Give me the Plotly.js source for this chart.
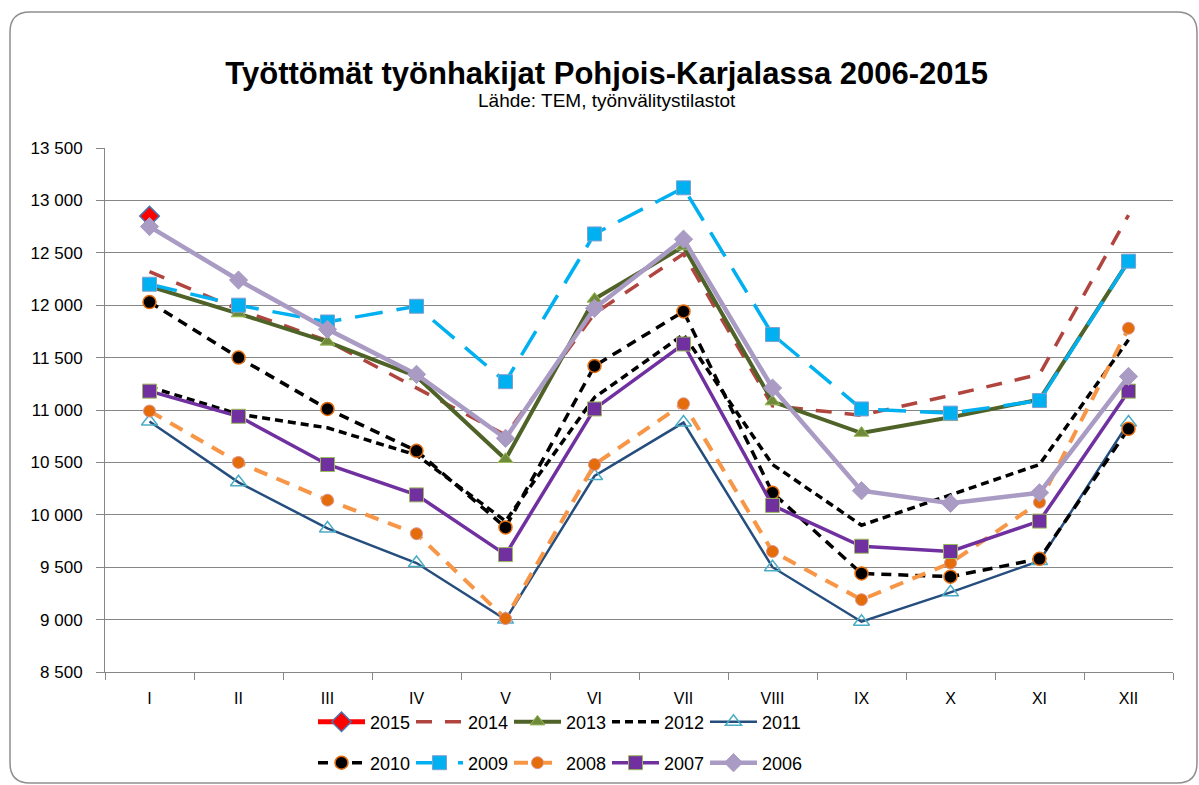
<!DOCTYPE html>
<html>
<head>
<meta charset="utf-8">
<script src="https://cdn.plot.ly/plotly-3.0.1.min.js"></script>
<style>
html,body{margin:0;padding:0;background:#fff;}
#chart{width:1199px;height:785px;}
</style>
</head>
<body>
<div id="chart"></div>
<script>
// Categories (months)
const months = ["I","II","III","IV","V","VI","VII","VIII","IX","X","XI","XII"];

// Series values
const y2015 = [12850, null, null, null, null, null, null, null, null, null, null, null];
const y2014 = [12320, 11960, 11660, 11210, 10760, 11920, 12490, 11040, 10950, 11140, 11340, 12860];
const y2013 = [12180, 11920, 11650, 11320, 10530, 12060, 12560, 11080, 10780, 10930, 11100, 12420];
const y2012 = [11220, 10960, 10830, 10570, 9940, 11120, 11720, 10480, 9900, 10190, 10480, 11670];
const y2011 = [10890, 10310, 9870, 9540, 9000, 10370, 10880, 9500, 8980, 9260, 9560, 10880];
const y2010 = [12030, 11500, 11010, 10610, 9880, 11420, 11940, 10210, 9440, 9410, 9580, 10820];
const y2009 = [12200, 12000, 11840, 11990, 11270, 12680, 13120, 11720, 11010, 10970, 11090, 12420];
const y2008 = [10990, 10500, 10140, 9820, 9010, 10480, 11060, 9650, 9190, 9540, 10120, 11780];
const y2007 = [11180, 10940, 10480, 10190, 9620, 11010, 11630, 10090, 9700, 9650, 9940, 11180];
const y2006 = [12750, 12240, 11770, 11340, 10730, 11970, 12630, 11210, 10230, 10110, 10210, 11320];

const yTickVals = [8500, 9000, 9500, 10000, 10500, 11000, 11500, 12000, 12500, 13000, 13500];

function tr(name, y, line, marker, legend) {
  const t = {
    x: months, y: y, name: name, type: "scatter",
    mode: marker ? "lines+markers" : "lines",
    line: line, legend: legend, connectgaps: false
  };
  if (marker) t.marker = marker;
  return t;
}

const traces = [
  tr("2015", y2015, {color: "#FF0000", width: 5},
     {symbol: "diamond", size: 15, color: "#FF0000", line: {color: "#4F6FA8", width: 1.5}}, "legend"),
  tr("2014", y2014, {color: "#B0453F", width: 3.5, dash: "16px,13px"}, null, "legend"),
  tr("2013", y2013, {color: "#4F6228", width: 4},
     {symbol: "triangle-up", size: 13, color: "#6E8A3A", line: {color: "#9BBB59", width: 1}}, "legend"),
  tr("2012", y2012, {color: "#000000", width: 3.5, dash: "8px,5px"}, null, "legend"),
  tr("2011", y2011, {color: "#254E7E", width: 2.5},
     {symbol: "triangle-up-open", size: 14, color: "#4BACC6", line: {color: "#4BACC6", width: 1.5}}, "legend"),
  tr("2010", y2010, {color: "#000000", width: 3.5, dash: "10px,7px"},
     {symbol: "circle", size: 13, color: "#000000", line: {color: "#E46C0A", width: 1.5}}, "legend2"),
  tr("2009", y2009, {color: "#00B0F0", width: 3.5, dash: "28px,14px"},
     {symbol: "square", size: 14, color: "#00B0F0", line: {color: "#7F9FCF", width: 1}}, "legend2"),
  tr("2008", y2008, {color: "#F79646", width: 4, dash: "14px,10px"},
     {symbol: "circle", size: 12, color: "#E46C0A", line: {color: "#D99694", width: 1}}, "legend2"),
  tr("2007", y2007, {color: "#7030A0", width: 3.5},
     {symbol: "square", size: 14, color: "#7030A0", line: {color: "#9BBB59", width: 1}}, "legend2"),
  tr("2006", y2006, {color: "#A99BC3", width: 4.5},
     {symbol: "diamond", size: 14, color: "#A99BC3", line: {color: "#A99BC3", width: 1}}, "legend2")
];

// Outer rounded frame (pixel -> paper conversion)
const L = 105, R = 1173, T = 148, B = 672;
const px = X => ((X - L) / (R - L)).toFixed(5);
const py = Y => ((B - Y) / (B - T)).toFixed(5);
const x0 = 10, x1 = 1197, yt = 12, yb = 783, r = 20;
const framePath =
  "M " + px(x0) + "," + py(yb - r) +
  " L " + px(x0) + "," + py(yt + r) +
  " Q " + px(x0) + "," + py(yt) + " " + px(x0 + r) + "," + py(yt) +
  " L " + px(x1 - r) + "," + py(yt) +
  " Q " + px(x1) + "," + py(yt) + " " + px(x1) + "," + py(yt + r) +
  " L " + px(x1) + "," + py(yb - r) +
  " Q " + px(x1) + "," + py(yb) + " " + px(x1 - r) + "," + py(yb) +
  " L " + px(x0 + r) + "," + py(yb) +
  " Q " + px(x0) + "," + py(yb) + " " + px(x0) + "," + py(yb - r) + " Z";

const baseFont = "Liberation Sans, Arial, sans-serif";

const layout = {
  width: 1199, height: 785,
  paper_bgcolor: "#ffffff", plot_bgcolor: "#ffffff",
  separators: ", ",
  margin: {l: L, r: 1199 - R, t: T, b: 785 - B, autoexpand: false},
  font: {family: baseFont, color: "#000000", size: 16},
  title: {
    text: "<b>Työttömät työnhakijat Pohjois-Karjalassa 2006-2015</b>",
    font: {family: baseFont, size: 31, color: "#000"},
    xref: "container", x: 0.506, xanchor: "center",
    yref: "container", y: 1 - 73 / 785, yanchor: "middle"
  },
  annotations: [{
    text: "Lähde: TEM, työnvälitystilastot",
    xref: "paper", yref: "paper",
    x: (607 - L) / (R - L), y: (B - 101) / (B - T),
    xanchor: "center", yanchor: "middle", showarrow: false,
    font: {family: baseFont, size: 19, color: "#000"}
  }],
  shapes: [{
    type: "path", xref: "paper", yref: "paper", path: framePath,
    line: {color: "#8E8E8E", width: 1.5}, fillcolor: "rgba(0,0,0,0)", layer: "below"
  }],
  xaxis: {
    type: "category",
    range: [-0.5, 11.5],
    autorange: false,
    tickson: "boundaries",
    ticks: "outside", ticklen: 7, tickcolor: "#868686", tickwidth: 1,
    showline: true, linecolor: "#868686", linewidth: 1,
    showgrid: false, zeroline: false,
    tickfont: {family: baseFont, size: 16, color: "#000"},
    ticklabelstandoff: 12,
    fixedrange: true
  },
  yaxis: {
    range: [8500, 13500],
    autorange: false,
    tickvals: yTickVals,
    tickformat: ",d",
    ticks: "outside", ticklen: 8, tickcolor: "#868686", tickwidth: 1,
    showline: true, linecolor: "#868686", linewidth: 1,
    showgrid: true, gridcolor: "#868686", gridwidth: 1,
    zeroline: false,
    tickfont: {family: baseFont, size: 17, color: "#000"},
    ticklabelstandoff: 10,
    fixedrange: true
  },
  legend: {
    orientation: "h", traceorder: "normal",
    xref: "container", yref: "container",
    x: 313 / 1199, xanchor: "left",
    y: 1 - 722 / 785, yanchor: "middle",
    itemwidth: 47,
    entrywidth: 36, entrywidthmode: "pixels",
    font: {family: baseFont, size: 18, color: "#000"},
    bgcolor: "rgba(0,0,0,0)"
  },
  legend2: {
    orientation: "h", traceorder: "normal",
    xref: "container", yref: "container",
    x: 313 / 1199, xanchor: "left",
    y: 1 - 763 / 785, yanchor: "middle",
    itemwidth: 47,
    entrywidth: 36, entrywidthmode: "pixels",
    font: {family: baseFont, size: 18, color: "#000"},
    bgcolor: "rgba(0,0,0,0)"
  },
  showlegend: true
};

Plotly.newPlot("chart", traces, layout, {displayModeBar: false, staticPlot: true});
</script>
</body>
</html>
